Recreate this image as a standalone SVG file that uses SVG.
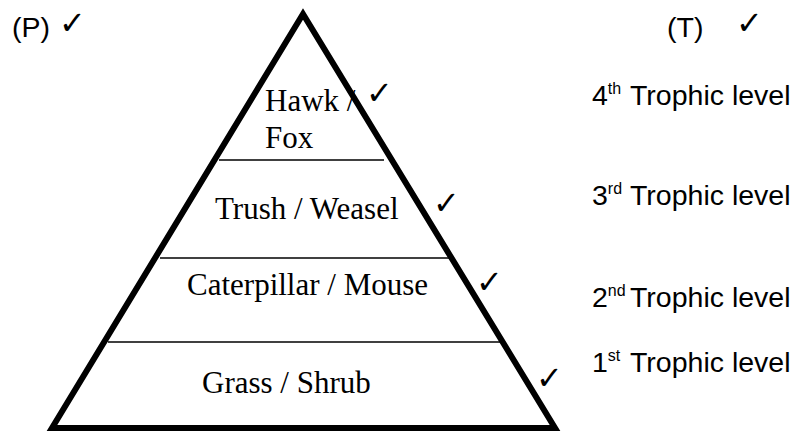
<svg xmlns="http://www.w3.org/2000/svg" width="798" height="432" viewBox="0 0 798 432">
<style>
.serif{font-family:"Liberation Serif","Times New Roman",serif;font-size:31px;fill:#000}
.sans{font-family:"Liberation Sans",Arial,sans-serif;font-size:28.5px;fill:#000}
.sup{font-size:16px}
.tick{font-family:"DejaVu Sans",sans-serif;font-size:32px;fill:#000}
.div{stroke:#000;stroke-width:1.5}
</style>
<rect width="798" height="432" fill="#fff"/>
<g id="pyramid">
<polygon points="303,14 52,428 555,428" fill="none" stroke="#000" stroke-width="6" stroke-linejoin="miter"/>
</g>
<g id="connectors">
<line class="div" x1="219" y1="160" x2="384" y2="160"/>
<line class="div" x1="160" y1="258" x2="450" y2="258"/>
<line class="div" x1="108" y1="342" x2="501" y2="342"/>
</g>
<g id="level4">
<text class="serif" x="265" y="111">Hawk /</text>
<text class="serif" x="265" y="148">Fox</text>
<text class="tick" x="366" y="104">✓</text>
</g>
<g id="level3">
<text class="serif" x="215" y="219">Trush / Weasel</text>
<text class="tick" x="433" y="214">✓</text>
</g>
<g id="level2">
<text class="serif" x="187" y="295">Caterpillar / Mouse</text>
<text class="tick" x="476" y="293">✓</text>
</g>
<g id="level1">
<text class="serif" x="202" y="393">Grass / Shrub</text>
<text class="tick" x="536" y="389">✓</text>
</g>
<g id="labelP">
<text class="sans" x="12" y="37">(P)</text>
<text class="tick" x="59" y="34">✓</text>
</g>
<g id="labelT">
<text class="sans" x="667" y="37">(T)</text>
<text class="tick" x="736" y="34">✓</text>
</g>
<g id="trophic4">
<text class="sans" x="592" y="105">4<tspan class="sup" dy="-11">th</tspan><tspan x="630" dy="11">Trophic level</tspan></text>
</g>
<g id="trophic3">
<text class="sans" x="592" y="205">3<tspan class="sup" dy="-11">rd</tspan><tspan x="630" dy="11">Trophic level</tspan></text>
</g>
<g id="trophic2">
<text class="sans" x="592" y="307">2<tspan class="sup" dy="-11">nd</tspan><tspan x="630" dy="11">Trophic level</tspan></text>
</g>
<g id="trophic1">
<text class="sans" x="592" y="372">1<tspan class="sup" dy="-11">st</tspan><tspan x="630" dy="11">Trophic level</tspan></text>
</g>
</svg>
